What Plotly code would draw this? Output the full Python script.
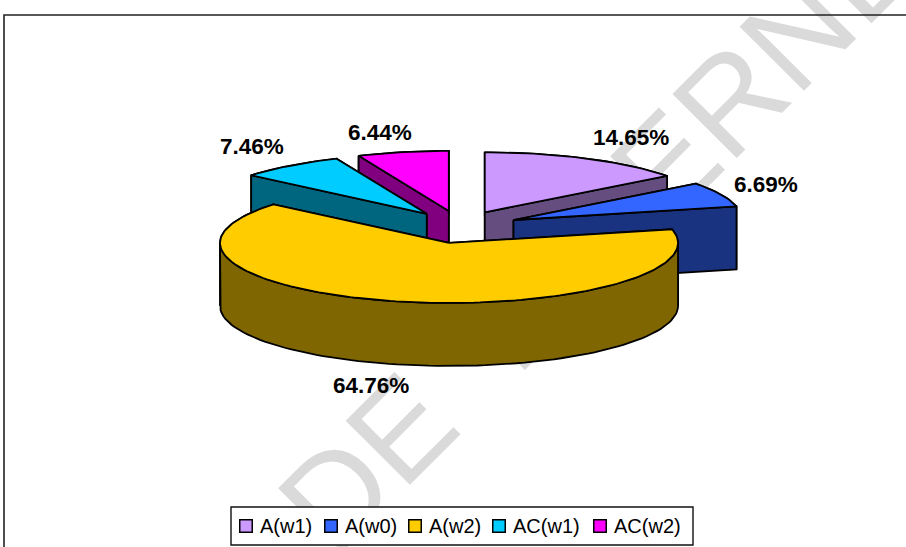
import math
import numpy as np
import plotly.graph_objects as go

# ---- data ----
categories = ["A(w1)", "A(w0)", "A(w2)", "AC(w1)", "AC(w2)"]
values = [14.65, 6.69, 64.76, 7.46, 6.44]
top_colors = ["#CC99FF", "#3366FF", "#FFCC00", "#00CCFF", "#FF00FF"]
side_colors = ["#664D80", "#1A3380", "#806600", "#006680", "#800080"]

# ---- projection of the tilted, exploded pie (pixel-like axes) ----
CX, CY = 460, 227
RX, RY = 229, 60
DEPTH = 63
EXPLODE_X, EXPLODE_Y = 55.8, 16.4
explode_x = [1, 1.06, 0.85, 1, 1]
explode_y = [1, 1, 1, 1, 1]
draw_order = [4, 3, 0, 1, 2]

label_x = [631, 766, 371, 252, 380]
label_y = [137, 184, 385, 146, 132]

legend_marker_x = [246, 331, 415, 499, 600]
LEGEND_Y = 526

W, H = 906, 547
OUT = "#000000"

cum = np.concatenate([[0], np.cumsum(values)]) / sum(values) * 360


def pt(apex, a):
    t = math.radians(a)
    return apex[0] + RX * math.sin(t), apex[1] - RY * math.cos(t)


def poly(fig, pts, color):
    xs = [p[0] for p in pts] + [pts[0][0]]
    ys = [p[1] for p in pts] + [pts[0][1]]
    fig.add_trace(go.Scatter(x=xs, y=ys, mode="lines", fill="toself", fillcolor=color,
                             line=dict(color=OUT, width=1.8), hoverinfo="skip", showlegend=False))


def wall(fig, apex, a0, a1, color):
    if a1 <= a0:
        return
    n = max(2, int((a1 - a0) / 2))
    arc = [pt(apex, a) for a in np.linspace(a0, a1, n)]
    poly(fig, arc + [(x, y + DEPTH) for x, y in reversed(arc)], color)


fig = go.Figure()

for i in draw_order:
    a0, a1 = cum[i], cum[i + 1]
    mid = math.radians((a0 + a1) / 2)
    apex = (CX + explode_x[i] * EXPLODE_X * math.sin(mid),
            CY - explode_y[i] * EXPLODE_Y * math.cos(mid))
    side = side_colors[i]
    # rear part of the rim
    wall(fig, apex, a0, min(a1, 90), side)
    wall(fig, apex, max(a0, 270), a1, side)
    # radial walls, the one nearer the viewer last
    for a in sorted((a0, a1), key=lambda d: -math.cos(math.radians(d))):
        p = pt(apex, a)
        poly(fig, [apex, p, (p[0], p[1] + DEPTH), (apex[0], apex[1] + DEPTH)], side)
    # front part of the rim
    wall(fig, apex, max(a0, 90), min(a1, 270), side)
    # top face
    n = max(3, int((a1 - a0) / 1.5))
    poly(fig, [apex] + [pt(apex, a) for a in np.linspace(a0, a1, n)], top_colors[i])

# legend keys
for name, c, x in zip(categories, top_colors, legend_marker_x):
    fig.add_trace(go.Scatter(x=[x], y=[LEGEND_Y], mode="markers", name=name, showlegend=False,
                             marker=dict(symbol="square", size=12.5, color=c,
                                         line=dict(color="#000000", width=1.5))))

annotations = [
    dict(x=x, y=y, xref="x", yref="y", text=f"{v:.2f}%", showarrow=False,
         font=dict(family="Liberation Sans", size=22.5, color="#000000", weight="bold"))
    for x, y, v in zip(label_x, label_y, values)
]
annotations += [
    dict(x=x + 12, y=LEGEND_Y, xref="x", yref="y", text=name, showarrow=False,
         xanchor="left", yanchor="middle",
         font=dict(family="Liberation Sans", size=20, color="#000000"))
    for x, name in zip(legend_marker_x, categories)
]

shapes = [
    # background watermark
    dict(type="line", x0=289, y0=523, x1=889, y1=-77, layer="below",
         line=dict(color="rgba(0,0,0,0)", width=0),
         label=dict(text="DE  INTERNE", textposition="middle", yanchor="middle",
                    font=dict(family="Liberation Sans", size=132, color="#DADADA"))),
    # chart frame
    dict(type="rect", x0=4, y0=15, x1=912, y1=560, layer="below",
         line=dict(color="#222222", width=1.6)),
    # legend box
    dict(type="rect", x0=231, y0=507, x1=693, y1=545, layer="below", fillcolor="white",
         line=dict(color="#111111", width=1.4)),
]

fig.update_layout(
    width=W, height=H, margin=dict(l=0, r=0, t=0, b=0),
    paper_bgcolor="white", plot_bgcolor="rgba(0,0,0,0)",
    xaxis=dict(range=[0, W], visible=False, fixedrange=True),
    yaxis=dict(range=[H, 0], visible=False, fixedrange=True),
    annotations=annotations, shapes=shapes, showlegend=False,
    font=dict(family="Liberation Sans", color="#000000"),
)

fig.write_html("out.html", config=dict(displayModeBar=False),
               post_script="document.body.style.margin='0';document.body.style.overflow='hidden';")
